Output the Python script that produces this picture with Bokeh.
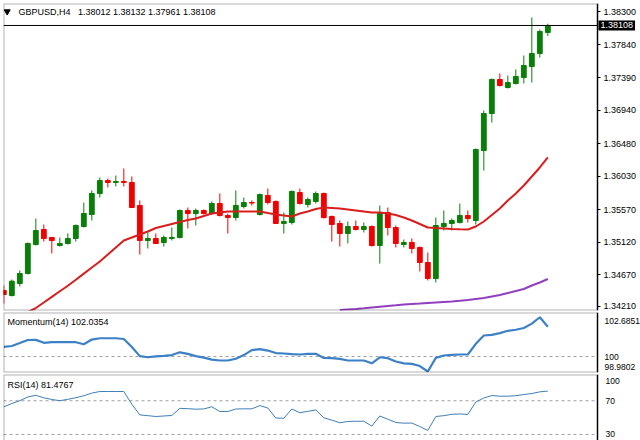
import numpy as np
from bokeh.plotting import figure
from bokeh.layouts import column
from bokeh.models import Range1d, Label, FixedTicker, BoxAnnotation
from bokeh.core.properties import value
from bokeh.embed import file_html
from bokeh.resources import INLINE

# ---------------- data ----------------
symbol = "GBPUSD,H4"
ohlc_text = "1.38012 1.38132 1.37961 1.38108"
last_price = 1.38108
last_price_text = "1.38108"

opens = [1.34454, 1.34385, 1.34550, 1.34688, 1.35088, 1.35295, 1.35185, 1.35074, 1.35102, 1.35171,
         1.35336, 1.35502, 1.35791, 1.35970, 1.35943, 1.35957, 1.35943, 1.35626, 1.35143, 1.35171,
         1.35116, 1.35171, 1.35185, 1.35557, 1.35515, 1.35557, 1.35515, 1.35653, 1.35488, 1.35460,
         1.35612, 1.35667, 1.35502, 1.35764, 1.35681, 1.35378, 1.35391, 1.35805, 1.35640, 1.35681,
         1.35791, 1.35474, 1.35378, 1.35240, 1.35336, 1.35295, 1.35336, 1.35074, 1.35529, 1.35322,
         1.35088, 1.35116, 1.35047, 1.34840, 1.34619, 1.35336, 1.35378, 1.35391, 1.35488, 1.35419,
         1.36384, 1.36894, 1.37363, 1.37253, 1.37308, 1.37390, 1.37542, 1.37721, 1.38012]
highs = [1.34523, 1.34605, 1.34730, 1.35116, 1.35446, 1.35364, 1.35190, 1.35185, 1.35240, 1.35364,
         1.35667, 1.35833, 1.36012, 1.35998, 1.36040, 1.36136, 1.36026, 1.35695, 1.35253, 1.35240,
         1.35212, 1.35322, 1.35571, 1.35598, 1.35584, 1.35571, 1.35681, 1.35791, 1.35515, 1.35833,
         1.35736, 1.35695, 1.35791, 1.35860, 1.35695, 1.35529, 1.35833, 1.35860, 1.35736, 1.35819,
         1.35805, 1.35488, 1.35419, 1.35405, 1.35419, 1.35391, 1.35350, 1.35626, 1.35598, 1.35350,
         1.35157, 1.35171, 1.35060, 1.34978, 1.35460, 1.35557, 1.35446, 1.35653, 1.35557, 1.36412,
         1.36935, 1.37377, 1.37446, 1.37418, 1.37501, 1.37694, 1.38218, 1.38052, 1.38132]
lows = [1.34274, 1.34371, 1.34509, 1.34674, 1.35074, 1.35129, 1.34964, 1.35060, 1.35088, 1.35129,
        1.35322, 1.35419, 1.35736, 1.35874, 1.35888, 1.35888, 1.35590, 1.34950, 1.35033, 1.35095,
        1.35060, 1.35143, 1.35171, 1.35309, 1.35350, 1.35502, 1.35502, 1.35474, 1.35240, 1.35419,
        1.35584, 1.35626, 1.35488, 1.35640, 1.35370, 1.35240, 1.35364, 1.35640, 1.35598, 1.35653,
        1.35446, 1.35129, 1.35060, 1.35102, 1.35281, 1.35253, 1.35060, 1.34826, 1.35212, 1.35047,
        1.35047, 1.34964, 1.34716, 1.34592, 1.34564, 1.35281, 1.35281, 1.35378, 1.35391, 1.35364,
        1.36108, 1.36770, 1.37266, 1.37239, 1.37294, 1.37308, 1.37321, 1.37666, 1.37961]
closes = [1.34399, 1.34582, 1.34688, 1.35102, 1.35281, 1.35171, 1.35143, 1.35102, 1.35171, 1.35350,
          1.35515, 1.35791, 1.35970, 1.35943, 1.35957, 1.35943, 1.35598, 1.35143, 1.35171, 1.35102,
          1.35185, 1.35185, 1.35557, 1.35515, 1.35557, 1.35515, 1.35653, 1.35488, 1.35460, 1.35626,
          1.35667, 1.35660, 1.35777, 1.35667, 1.35378, 1.35405, 1.35819, 1.35653, 1.35708, 1.35791,
          1.35460, 1.35364, 1.35240, 1.35336, 1.35295, 1.35336, 1.35074, 1.35515, 1.35322, 1.35102,
          1.35116, 1.35033, 1.34840, 1.34619, 1.35350, 1.35378, 1.35419, 1.35488, 1.35446, 1.36398,
          1.36894, 1.37363, 1.37280, 1.37321, 1.37404, 1.37556, 1.37721, 1.38025, 1.38108]

ma_fast_start = 3
ma_fast = [1.34157, 1.34212, 1.34288, 1.34366, 1.34443, 1.34520, 1.34603, 1.34687, 1.34770, 1.34854,
           1.34950, 1.35047, 1.35143, 1.35185, 1.35226, 1.35267, 1.35315, 1.35343, 1.35371, 1.35398,
           1.35426, 1.35446, 1.35481, 1.35515, 1.35529, 1.35543, 1.35543, 1.35543, 1.35543, 1.35543,
           1.35522, 1.35502, 1.35488, 1.35474, 1.35515, 1.35543, 1.35577, 1.35598, 1.35591, 1.35584,
           1.35571, 1.35557, 1.35543, 1.35529, 1.35529, 1.35515, 1.35495, 1.35460, 1.35419, 1.35371,
           1.35322, 1.35315, 1.35309, 1.35302, 1.35298, 1.35295, 1.35336, 1.35405, 1.35495, 1.35584,
           1.35695, 1.35791, 1.35902, 1.36026, 1.36150, 1.36288]

ma_slow_start = 42
ma_slow = [1.34185, 1.34192, 1.34199, 1.34208, 1.34219, 1.34230, 1.34240, 1.34250, 1.34261, 1.34268,
           1.34274, 1.34281, 1.34288, 1.34295, 1.34302, 1.34312, 1.34323, 1.34337, 1.34350, 1.34371,
           1.34392, 1.34419, 1.34447, 1.34474, 1.34523, 1.34564, 1.34612]

momentum = [100.66, 100.72, 100.92, 101.13, 101.14, 100.94, 100.98, 100.98, 100.98, 100.98,
            100.84, 101.16, 101.25, 101.25, 101.25, 101.20, 100.65, 100.03, 99.95, 100.01,
            100.05, 100.10, 100.29, 100.18, 100.03, 99.93, 99.79, 99.73, 99.73, 99.85,
            100.10, 100.44, 100.51, 100.41, 100.24, 100.21, 100.17, 100.14, 100.18, 100.19,
            99.90, 99.89, 99.84, 99.73, 99.73, 99.73, 99.54, 99.95, 99.89, 99.66,
            99.53, 99.50, 99.35, 98.9802, 99.91, 100.07, 100.12, 100.14, 100.14, 100.87,
            101.44, 101.48, 101.60, 101.76, 101.83, 101.95, 102.25, 102.6851, 102.0354]

rsi = [62.8, 66.7, 70.1, 74.5, 76.5, 73.5, 71.5, 70.1, 71.7, 73.6,
       76.0, 79.1, 81.0, 81.0, 81.0, 81.0, 65.9, 53.2, 52.3, 51.3,
       51.9, 52.5, 61.0, 60.6, 60.0, 60.3, 62.9, 57.2, 57.2, 60.2,
       60.4, 60.4, 64.3, 61.4, 49.5, 49.3, 60.2, 55.8, 57.4, 59.1,
       49.8, 47.0, 43.9, 45.4, 45.7, 45.7, 39.9, 51.9, 48.1, 44.2,
       43.4, 43.5, 39.4, 34.7, 51.3, 52.3, 53.9, 54.3, 53.8, 68.5,
       73.3, 76.2, 75.4, 75.4, 76.0, 77.4, 78.6, 80.6, 81.4767]

price_tick_labels = ["1.38300", "1.37840", "1.37390", "1.36940", "1.36480",
                     "1.36030", "1.35570", "1.35120", "1.34670", "1.34210"]
mom_title = "Momentum(14) 102.0354"
mom_tick_labels = ["102.6851", "100", "98.9802"]
mom_level = 100
rsi_title = "RSI(14) 81.4767"
rsi_tick_labels = ["100", "70", "30"]
rsi_levels = [70, 30]

# ---------------- styling / layout ----------------
FONT = "Liberation Sans"
FS = "9px"
AFS = "9px"
IFS = "8.5px"
BULL = "#0b7d0b"
BEAR = "#f00000"
W = 640
X0 = -0.04          # left edge of the chart window (bar index)
AX = 74.21          # bar index where the price scale begins
XEND = 79.585       # right edge of the window (includes the price-scale strip)

xr = Range1d(X0, XEND)


def base(height, yr, top, bottom):
    f = figure(width=W, height=height, x_range=xr, y_range=yr,
               output_backend="svg", toolbar_location=None,
               x_axis_location=None, y_axis_location="right",
               min_border_left=3, min_border_right=0,
               min_border_top=top, min_border_bottom=bottom,
               background_fill_color="white", border_fill_color="white")
    f.grid.visible = False
    f.outline_line_color = None
    ax = f.yaxis[0]
    ax.fixed_location = AX
    ax.axis_line_color = "black"
    ax.axis_line_width = 1.2
    ax.minor_tick_line_color = None
    ax.major_label_text_font = FONT
    ax.major_label_text_font_size = AFS
    ax.major_label_text_color = "black"
    return f


def frame_box(f, y0, y1):
    f.add_layout(BoxAnnotation(left=X0, right=AX, bottom=y0, top=y1,
                               fill_alpha=0, line_color="black", line_width=2))


# ---- main price panel ----
PY0, PY1 = 1.34178, 1.38411
p = base(311, Range1d(PY0, PY1), 3, 1)
frame_box(p, PY0, PY1)
pa = p.yaxis[0]
price_tick_pos = [float(t) for t in price_tick_labels[:-1]] + [1.34240]
pa.ticker = FixedTicker(ticks=price_tick_pos)
pa.major_label_overrides = {pos: lab for pos, lab in zip(price_tick_pos, price_tick_labels)}
pa.major_tick_out = 3
pa.major_tick_in = 0
pa.major_tick_line_color = "black"
pa.major_label_standoff = 3

idx = np.arange(len(opens))
o = np.array(opens)
c = np.array(closes)
cols = [BULL if cc >= oo else BEAR for oo, cc in zip(opens, closes)]
p.segment(x0=idx, y0=lows, x1=idx, y1=highs, line_color=cols, line_width=1)
p.vbar(x=idx, width=0.6, top=np.maximum(o, c), bottom=np.minimum(o, c),
       fill_color=cols, line_color=cols, line_width=1)

p.line(np.arange(ma_fast_start, ma_fast_start + len(ma_fast)), ma_fast,
       line_color="#d91e1e", line_width=2)
p.line(np.arange(ma_slow_start, ma_slow_start + len(ma_slow)), ma_slow,
       line_color="#9040bf", line_width=2)

p.segment(x0=[X0], y0=[last_price], x1=[AX], y1=[last_price], line_color="black", line_width=1)
p.add_layout(Label(x=AX, y=last_price, x_offset=1, text=last_price_text,
                   text_color="white", background_fill_color="black",
                   text_font=FONT, text_font_size=AFS, text_baseline="middle",
                   text_align="left", padding=2, level="overlay"))

p.scatter(x=[0.42], y=[1.38300], marker="inverted_triangle", size=6,
          fill_color="black", line_color="black")
p.text(x=[1.84, 9.27], y=[1.38300, 1.38300], text=[symbol, ohlc_text],
       text_font=value(FONT), text_font_size=FS, text_baseline="middle",
       text_align="left", text_color="black")

# ---- momentum panel ----
MY0, MY1 = 98.91, 103.01
m = base(62, Range1d(MY0, MY1), 1, 1)
frame_box(m, MY0, MY1)
ma = m.yaxis[0]
mom_tick_pos = [102.46, 100.0, 99.32]
ma.ticker = FixedTicker(ticks=mom_tick_pos)
ma.major_label_overrides = {pos: lab for pos, lab in zip(mom_tick_pos, mom_tick_labels)}
ma.major_tick_line_color = None
ma.major_label_standoff = 1
ma.major_label_text_font_size = IFS
m.segment(x0=[X0], y0=[mom_level], x1=[AX], y1=[mom_level], line_color="#a0a0a0",
          line_width=1, line_dash="3 3")
m.line(idx, momentum, line_color="#3c80c6", line_width=2.2)
m.text(x=[0.46], y=[102.39], text=[mom_title], text_font=value(FONT), text_font_size=FS,
       text_baseline="middle", text_align="left", text_color="black")

# ---- RSI panel (window cut at the bottom) ----
RY0, RY1 = 22.8, 101.19
r = base(67, Range1d(RY0, RY1), 1, 0)
r.add_layout(BoxAnnotation(left=X0, right=AX, bottom=RY0 - 5, top=RY1,
                           fill_alpha=0, line_color="black", line_width=2))
ra = r.yaxis[0]
rsi_tick_pos = [92.9, 70.0, 30.0]
ra.ticker = FixedTicker(ticks=rsi_tick_pos)
ra.major_label_overrides = {pos: lab for pos, lab in zip(rsi_tick_pos, rsi_tick_labels)}
ra.major_tick_line_color = None
ra.major_label_standoff = 2
ra.major_label_text_font_size = IFS
r.segment(x0=[X0] * len(rsi_levels), y0=rsi_levels, x1=[AX] * len(rsi_levels), y1=rsi_levels,
          line_color="#a0a0a0", line_width=1, line_dash="3 3")
r.line(idx, rsi, line_color="#3f7fb5", line_width=1)
r.text(x=[0.46], y=[89.3], text=[rsi_title], text_font=value(FONT), text_font_size=FS,
       text_baseline="middle", text_align="left", text_color="black")

layout = column(p, m, r, spacing=0)
open("out.html", "w").write(file_html(layout, INLINE))
